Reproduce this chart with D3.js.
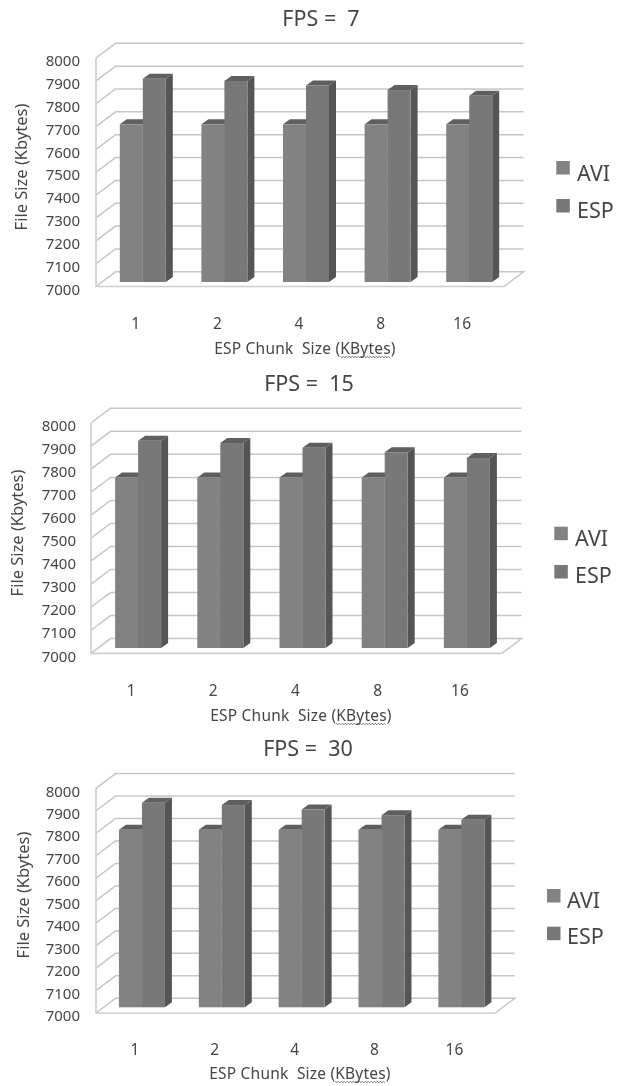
<!DOCTYPE html>
<html><head><meta charset="utf-8">
<script src="https://cdn.jsdelivr.net/npm/d3@7/dist/d3.min.js"></script>
<style>
html,body{margin:0;padding:0;background:#fff}
svg{display:block}
text{font-family:"Noto Sans","Open Sans",sans-serif;fill:#454545}
</style></head><body>
<svg id="c" width="624" height="1086" viewBox="0 0 624 1086"></svg>
<script>
const categories = ["1","2","4","8","16"];
const seriesNames = ["AVI","ESP"];
const yTicks = [7000,7100,7200,7300,7400,7500,7600,7700,7800,7900,8000];
const titles = ["FPS =\u00a0 7","FPS =\u00a0 15","FPS =\u00a0 30"];
const avi7  = [7690,7690,7690,7690,7690];
const esp7  = [7890,7880,7860,7840,7815];
const avi15 = [7740,7740,7740,7740,7740];
const esp15 = [7900,7890,7870,7850,7825];
const avi30 = [7790,7790,7790,7790,7790];
const esp30 = [7910,7900,7880,7855,7835];

const panels = [
 {t:titles[0],avi:avi7,esp:esp7,x0:96,x1:504,y0:286.5,y1:58,zy:4.5,tickR:80,titleX:321,titleY:18,catY:323,xtX:305,xtY:348,ytX:21,ytY:167,lx:556.3,ly:[161,199],ltx:577,lty:[173,210]},
 {t:titles[1],avi:avi15,esp:esp15,x0:91,x1:502,y0:653.3,y1:423,zy:5.3,tickR:76,titleX:309,titleY:383,catY:690,xtX:301,xtY:715,ytX:17,ytY:533,lx:554.3,ly:[526.7,565],ltx:575,lty:[538,575]},
 {t:titles[2],avi:avi30,esp:esp30,x0:96,x1:495.3,y0:1013,y1:788.3,zy:5.7,tickR:80,titleX:308,titleY:748,catY:1049,xtX:300,xtY:1073,ytX:23,ytY:895,lx:547,ly:[889,926.7],ltx:567,lty:[900.7,936.7]}
];
const wallDx=19.5, wallDy=14.7, barDx=7, barDy=5, barW=23, zx=6;
const frontCol={AVI:"#828282",ESP:"#787878"}, sideCol="#555555", topCol="#5e5e5e", grid="#c6c6c6";
const svg=d3.select("#c");
const defs=svg.append("defs");
defs.append("filter").attr("id","soft").attr("x","-5%").attr("y","-5%").attr("width","110%").attr("height","110%")
  .append("feGaussianBlur").attr("stdDeviation",0.5);
const root=svg.append("g").attr("filter","url(#soft)");

panels.forEach(p=>{
  const g=root.append("g");
  const y=d3.scaleLinear().domain([7000,8000]).range([p.y0,p.y1]);
  const x=d3.scaleBand().domain(categories).range([p.x0,p.x1]);
  const s=d3.scaleBand().domain(seriesNames).range([-barW,barW]);

  yTicks.forEach(v=>{
    g.append("path").attr("fill","none").attr("stroke",grid).attr("stroke-width",1.5)
     .attr("d",d3.line()(v===7000
       ?[[p.x0,y(v)],[p.x0+wallDx,y(v)-wallDy],[p.x1+wallDx,y(v)-wallDy],[p.x1,y(v)]]
       :[[p.x0,y(v)],[p.x0+wallDx,y(v)-wallDy],[p.x1+wallDx,y(v)-wallDy]]));
  });
  g.append("path").attr("fill","none").attr("stroke","#cfcfcf").attr("stroke-width",1.7)
   .attr("d",d3.line()([[p.x0,p.y1],[p.x0,p.y0],[p.x1,p.y0]]));

  categories.forEach((c,i)=>{
    seriesNames.forEach(n=>{
      const v=(n==="AVI"?p.avi:p.esp)[i];
      const L=x(c)+x.bandwidth()/2+zx+s(n), R=L+s.bandwidth();
      const T=y(v)-p.zy, B=y(7000)-p.zy;
      g.append("path").attr("fill",sideCol).attr("d",d3.line()([[R,T],[R+barDx,T-barDy],[R+barDx,B-barDy],[R,B]])+"Z");
      g.append("path").attr("fill",topCol).attr("d",d3.line()([[L,T],[L+barDx,T-barDy],[R+barDx,T-barDy],[R,T]])+"Z");
      g.append("rect").attr("x",L).attr("y",T).attr("width",R-L).attr("height",B-T).attr("fill",frontCol[n]);
    });
  });

  const ya=g.append("g").attr("transform",`translate(${p.tickR},0)`)
    .call(d3.axisLeft(y).tickValues(yTicks).tickSize(0).tickPadding(0).tickFormat(d3.format("d")));
  ya.select(".domain").remove();
  ya.selectAll("text").attr("font-size",15).attr("dy",".36em").attr("y",2.3);
  const xa=g.append("g").attr("transform",`translate(-1,${p.catY})`)
    .call(d3.axisBottom(x).tickSize(0).tickPadding(0));
  xa.select(".domain").remove();
  xa.selectAll("text").attr("font-size",15.5).attr("y",0).attr("dy",".36em");

  g.append("text").attr("x",p.titleX).attr("y",p.titleY).attr("dy",".36em").attr("text-anchor","middle")
    .attr("font-size",21.5).text(p.t);
  g.append("text").attr("transform",`translate(${p.ytX},${p.ytY}) rotate(-90)`).attr("dy",".36em")
    .attr("text-anchor","middle").attr("font-size",16.5).text("File Size (Kbytes)");
  const xt=g.append("text").attr("x",p.xtX).attr("y",p.xtY).attr("dy",".36em").attr("text-anchor","middle")
    .attr("font-size",15.5).attr("letter-spacing",0.2).text("ESP Chunk\u00a0 Size (KBytes)");
  const node=xt.node(), str=node.textContent, a=str.indexOf("KBytes");
  const sx=node.getStartPositionOfChar(a).x, ex=node.getEndPositionOfChar(a+5).x;
  const wave=d3.range(sx,ex+.01,1.5).map((q,i)=>[q,p.xtY+9+(i%2?1:-1)*0.9]);
  g.append("path").attr("fill","none").attr("stroke","#666").attr("stroke-width",.8).attr("d",d3.line()(wave));

  seriesNames.forEach((n,i)=>{
    g.append("rect").attr("x",p.lx).attr("y",p.ly[i]).attr("width",13.5).attr("height",13.5).attr("fill",frontCol[n]);
    g.append("text").attr("x",p.ltx).attr("y",p.lty[i]).attr("dy",".36em").attr("font-size",21.5).text(n);
  });
});
</script></body></html>
